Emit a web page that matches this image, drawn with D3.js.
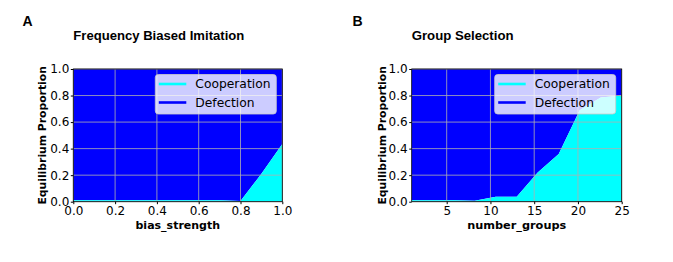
<!DOCTYPE html>
<html>
<head>
<meta charset="utf-8">
<script src="https://cdn.jsdelivr.net/npm/d3@7"></script>
<style>
  body { margin: 0; background: #fff; }
  svg text { font-family: "DejaVu Sans", sans-serif; }
</style>
</head>
<body>
<div id="chart"></div>
<script>
const width = 673;
const height = 262;

// panel A: frequency biased imitation
const biasStrength = [0, 0.1, 0.2, 0.3, 0.4, 0.5, 0.6, 0.7, 0.8, 0.9, 1.0];
const coopA = [0.01, 0.01, 0.01, 0.01, 0.01, 0.01, 0.01, 0.01, 0.005, 0.21, 0.435];
const ticksA = [0, 0.2, 0.4, 0.6, 0.8, 1.0];

// panel B: group selection
const numberGroups = [1, 3.4, 5.8, 8.2, 10.6, 13, 15.4, 17.8, 20.2, 22.6, 25];
const coopB = [0.01, 0.01, 0.01, 0.008, 0.038, 0.038, 0.22, 0.36, 0.69, 0.785, 0.8];
const ticksB = [5, 10, 15, 20, 25];

const yTicks = [0, 0.2, 0.4, 0.6, 0.8, 1.0];
const colors = { coop: "#00ffff", defect: "#0000ff" };

const svg = d3.select("#chart").append("svg")
  .attr("width", width).attr("height", height);

function panel(opt) {
  const x = d3.scaleLinear().domain(opt.domain).range([opt.left, opt.right]);
  const y = d3.scaleLinear().domain([0, 1]).range([201.7, 69]);
  const g = svg.append("g");

  const rows = opt.xs.map((v, i) => ({ x: v, c: opt.coop[i] }));

  // defection fills everything above cooperation
  g.append("path")
    .datum(rows)
    .attr("fill", colors.defect)
    .attr("d", d3.area().x(d => x(d.x)).y0(d => y(d.c)).y1(y(1)));
  g.append("path")
    .datum(rows)
    .attr("fill", colors.coop)
    .attr("d", d3.area().x(d => x(d.x)).y0(y(0)).y1(d => y(d.c)));

  // grid
  g.selectAll(".gx").data(opt.ticks).enter().append("line")
    .attr("x1", d => x(d)).attr("x2", d => x(d))
    .attr("y1", y(0)).attr("y2", y(1))
    .attr("stroke", "#b0b0b0").attr("stroke-width", 0.8);
  g.selectAll(".gy").data(yTicks).enter().append("line")
    .attr("x1", opt.left).attr("x2", opt.right)
    .attr("y1", d => y(d)).attr("y2", d => y(d))
    .attr("stroke", "#b0b0b0").attr("stroke-width", 0.8);

  // axes
  const xa = g.append("g").attr("transform", `translate(0,${y(0)})`)
    .call(d3.axisBottom(x).tickValues(opt.ticks).tickFormat(opt.fmt).tickSizeOuter(0).tickSize(2.5).tickPadding(2));
  const ya = g.append("g").attr("transform", `translate(${opt.left},0)`)
    .call(d3.axisLeft(y).tickValues(yTicks).tickFormat(d3.format(".1f")).tickSizeOuter(0).tickSize(2.5).tickPadding(1.5));
  [xa, ya].forEach(a => {
    a.selectAll("text").attr("font-family", "DejaVu Sans").attr("font-size", 12).attr("fill", "#000");
    a.select(".domain").remove();
  });

  // frame
  g.append("rect")
    .attr("x", opt.left).attr("y", y(1))
    .attr("width", opt.right - opt.left).attr("height", y(0) - y(1))
    .attr("fill", "none").attr("stroke", "#000").attr("stroke-width", 0.8);

  // legend
  const lx = opt.right - 127, ly = 74.5;
  const lg = g.append("g");
  lg.append("rect").attr("x", lx).attr("y", ly).attr("width", 121).attr("height", 39.5)
    .attr("rx", 3).attr("fill", "#fff").attr("fill-opacity", 0.8)
    .attr("stroke", "#cccccc").attr("stroke-width", 0.8);
  [["Cooperation", colors.coop, 9.5], ["Defection", colors.defect, 28]].forEach(([t, c, dy]) => {
    lg.append("line").attr("x1", lx + 3.5).attr("x2", lx + 31).attr("y1", ly + dy).attr("y2", ly + dy)
      .attr("stroke", c).attr("stroke-width", 2.6);
    lg.append("text").attr("x", lx + 40).attr("y", ly + dy + 4.3)
      .attr("font-size", 12.3).text(t);
  });

  // labels
  const mid = (opt.left + opt.right) / 2;
  g.append("text").attr("x", mid).attr("y", 229).attr("text-anchor", "middle")
    .attr("font-size", opt.xlabelSize).attr("font-weight", "bold").text(opt.xlabel);
  g.append("text").attr("transform", `translate(${opt.ylabelX},${(y(0) + y(1)) / 2}) rotate(-90)`)
    .attr("text-anchor", "middle").attr("font-size", 10.8).attr("font-weight", "bold")
    .text("Equilibrium Proportion");
  g.append("text").attr("x", opt.left).attr("y", 39.7)
    .style("font-family", "'Liberation Sans', Arial, sans-serif")
    .attr("font-size", opt.titleSize).attr("font-weight", "bold").text(opt.title);
  g.append("text").attr("x", opt.letterX).attr("y", 25.7)
    .style("font-family", "'Liberation Sans', Arial, sans-serif")
    .attr("font-size", 14).attr("font-weight", "bold").text(opt.letter);
}

panel({
  domain: [0, 1], left: 73.3, right: 282.3, xs: biasStrength, coop: coopA,
  ticks: ticksA, fmt: d3.format(".1f"), xlabel: "bias_strength", xlabelSize: 11,
  ylabelX: 46, title: "Frequency Biased Imitation", titleSize: 13.1,
  letter: "A", letterX: 22.5
});
panel({
  domain: [1, 25], left: 411.7, right: 621.7, xs: numberGroups, coop: coopB,
  ticks: ticksB, fmt: d3.format("d"), xlabel: "number_groups", xlabelSize: 11.3,
  ylabelX: 385.5, title: "Group Selection", titleSize: 13.2,
  letter: "B", letterX: 352.5
});
</script>
</body>
</html>
